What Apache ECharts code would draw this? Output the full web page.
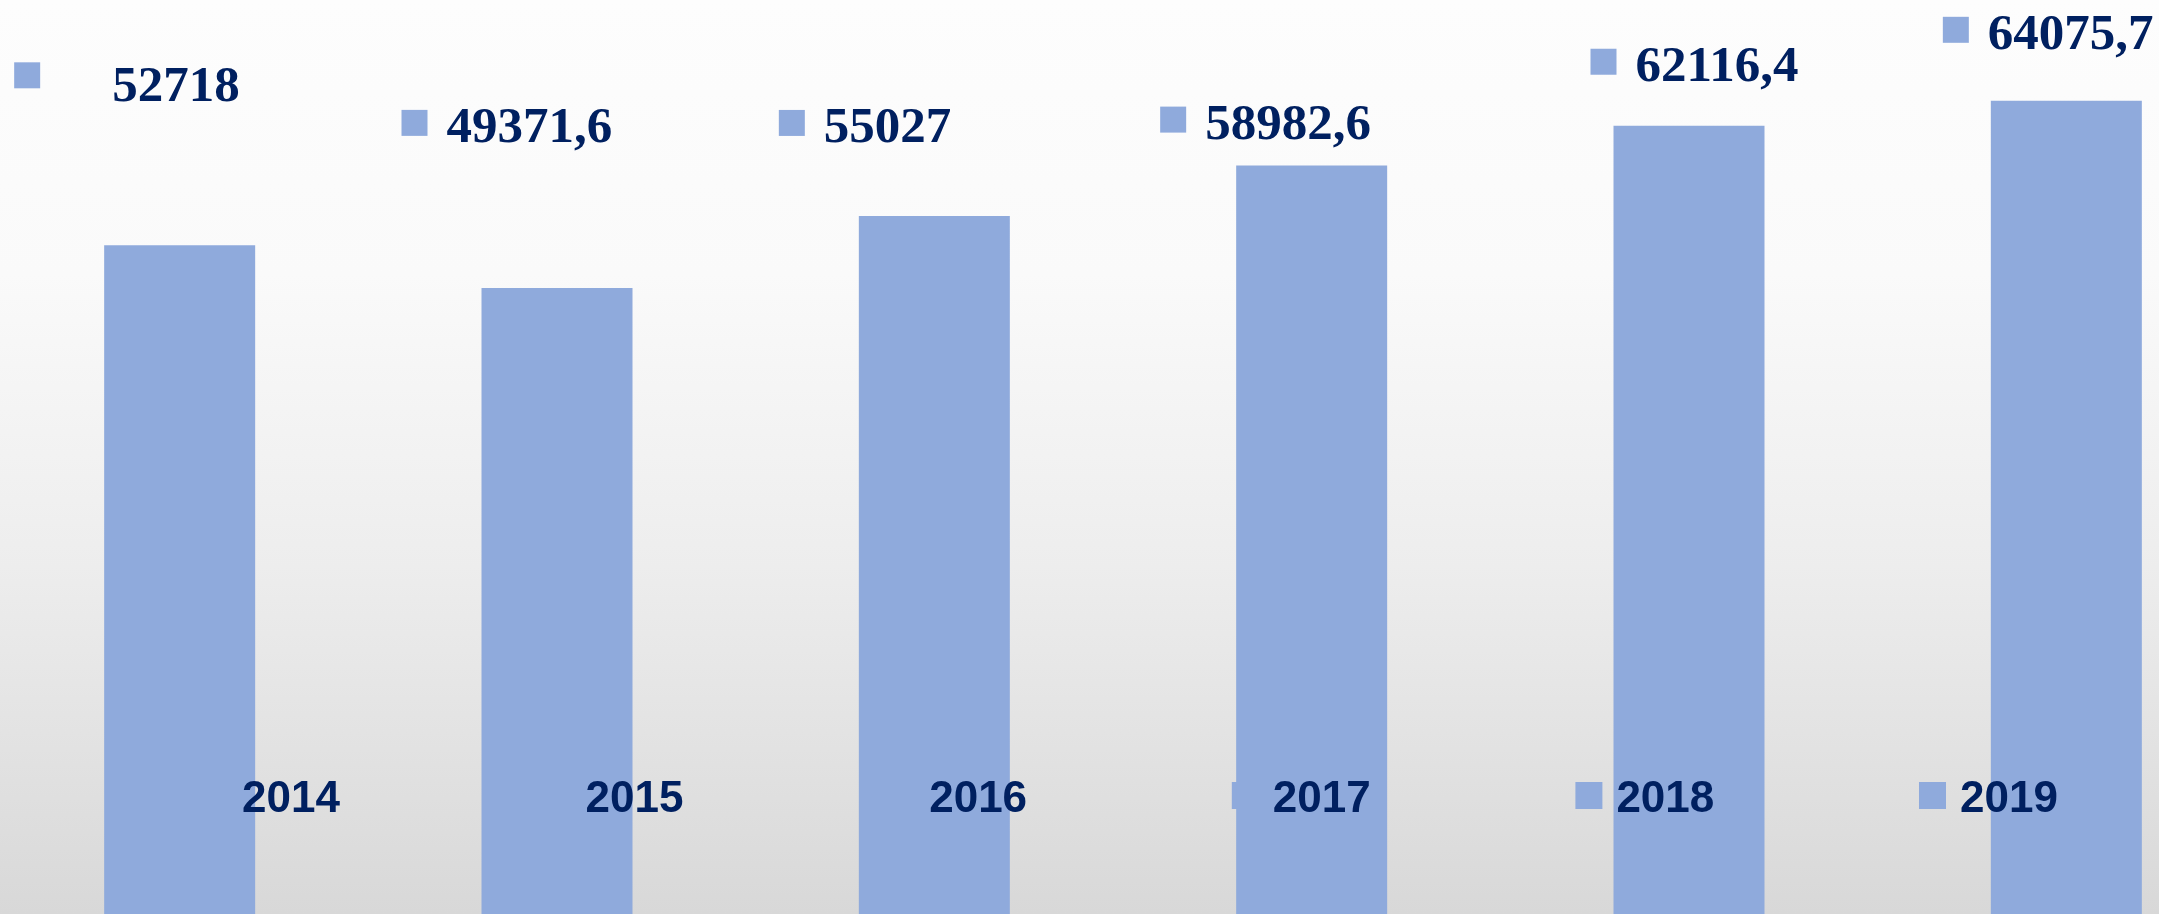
<!DOCTYPE html>
<html>
<head>
<meta charset="utf-8">
<script src="https://cdn.jsdelivr.net/npm/echarts@6/dist/echarts.min.js"></script>
<style>
  html, body { margin: 0; padding: 0; }
  #chart {
    width: 2159px; height: 914px;
    background: linear-gradient(to bottom, #fdfdfd 0%, #fafafa 30%, #ededed 62%, #d8d8d8 100%);
  }
</style>
</head>
<body>
<div id="chart"></div>
<script>
// ---- data ----
const years = ['2014', '2015', '2016', '2017', '2018', '2019'];
const values = [52718, 49371.6, 55027, 58982.6, 62116.4, 64075.7];

// ---- label placement (relative to bar top-left), kept apart from data ----
const labelDx = [-90, -80, -80, -76, -23, -48];
const labelDy = [-170, -165, -93, -46, -64, -71];
const labelStyleKey = ['w', 'v', 'v', 'v', 'v', 'v'];

const BAR = '#8FAADC';
const NAVY = '#002060';

function fmt(v) { return String(v).replace('.', ','); }

const barData = values.map((v, i) => ({
  value: v,
  label: {
    position: [labelDx[i], labelDy[i]],
    formatter: '{m|}{' + labelStyleKey[i] + '|' + fmt(v) + '}'
  }
}));

const chart = echarts.init(document.getElementById('chart'), null, { renderer: 'canvas' });
chart.setOption({
  backgroundColor: 'transparent',
  animation: false,
  grid: [
    { left: -9, width: 2264, top: 0, height: 916, outerBoundsMode: 'none', containLabel: false },
    { left: 42.7, width: 2061.6, top: 782, height: 27, outerBoundsMode: 'none', containLabel: false }
  ],
  xAxis: [
    { type: 'category', data: years, gridIndex: 0, show: false },
    { type: 'category', data: years, gridIndex: 1, show: false }
  ],
  yAxis: [
    { type: 'value', min: 0, max: 72000, gridIndex: 0, show: false, splitLine: { show: false } },
    { type: 'value', min: -1, max: 1, gridIndex: 1, show: false, splitLine: { show: false } }
  ],
  series: [
    {
      type: 'scatter',
      xAxisIndex: 1, yAxisIndex: 1,
      z: 1,
      symbol: 'rect',
      symbolSize: 27,
      itemStyle: { color: BAR, opacity: 1 },
      data: years.map(y => [y, 0]),
      silent: true
    },
    {
      type: 'bar',
      xAxisIndex: 0, yAxisIndex: 0,
      z: 2,
      barWidth: 151,
      itemStyle: { color: BAR },
      label: {
        show: true,
        align: 'left',
        verticalAlign: 'middle',
        rich: {
          m: { width: 26, height: 26, backgroundColor: BAR },
          v: { fontFamily: 'Liberation Serif', fontWeight: 'bold', fontSize: 51, color: NAVY, padding: [12, 0, 0, 19] },
          w: { fontFamily: 'Liberation Serif', fontWeight: 'bold', fontSize: 51, color: NAVY, padding: [26, 0, 0, 72] }
        }
      },
      data: barData
    },
    {
      type: 'scatter',
      xAxisIndex: 1, yAxisIndex: 1,
      z: 3,
      symbol: 'rect',
      symbolSize: 1,
      itemStyle: { color: 'rgba(0,0,0,0)', opacity: 1 },
      label: {
        show: true,
        position: 'right',
        distance: 27,
        offset: [0, 4],
        formatter: '{b}',
        fontFamily: 'Liberation Sans',
        fontWeight: 'bold',
        fontSize: 44,
        color: NAVY,
        opacity: 1,
        verticalAlign: 'middle'
      },
      data: years.map(y => ({ name: y, value: [y, 0] })),
      silent: true
    }
  ]
});
</script>
</body>
</html>
